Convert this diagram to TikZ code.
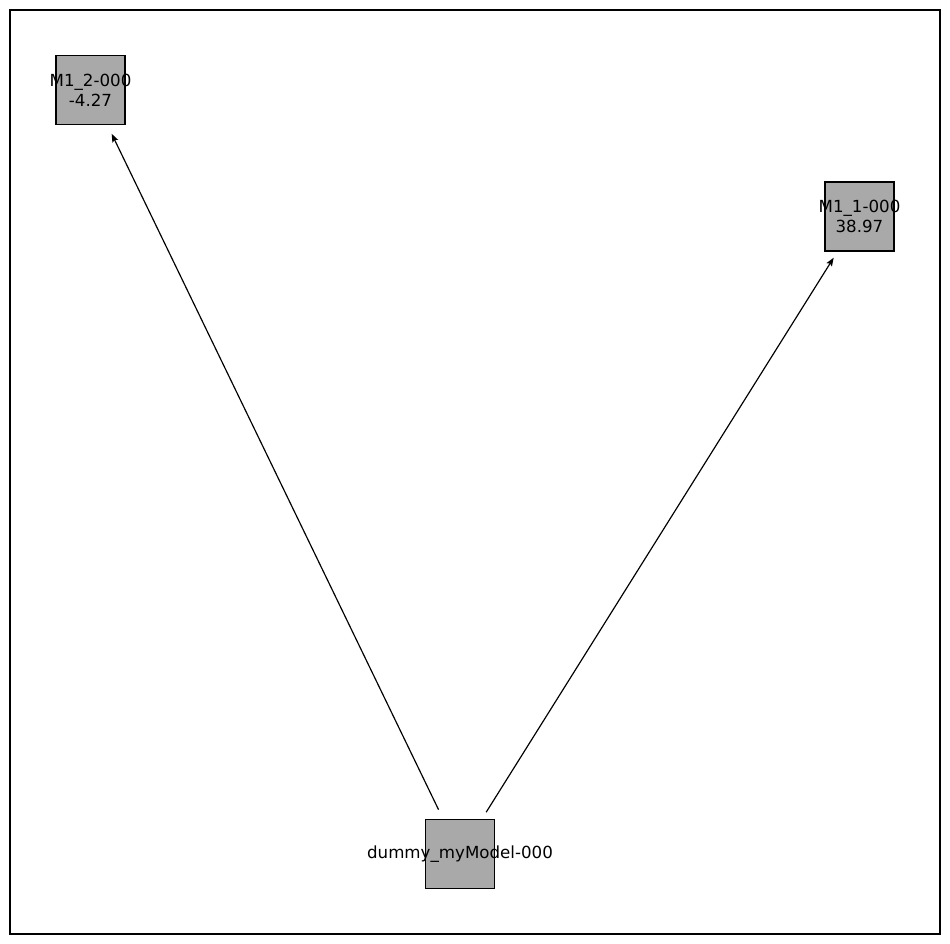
\documentclass[tikz,border=0pt]{standalone}
\usepackage{fontspec}
\setmainfont{DejaVu Sans}
\usetikzlibrary{arrows.meta}
\begin{document}
\begin{tikzpicture}[x=0.72pt,y=-0.72pt,
  nodebox/.style={draw=black,line width=0.8pt,fill={rgb,255:red,169;green,169;blue,169},minimum width=49.7pt,minimum height=49.7pt,inner sep=0pt},
  lbl/.style={font=\fontsize{12pt}{14.5pt}\selectfont,align=center,inner sep=0pt},
  edge/.style={-{Stealth[length=6pt,width=4.5pt,inset=1pt]},line width=0.85pt,shorten <=35.5pt,shorten >=35pt}]
\useasboundingbox (0,0) rectangle (950,944);
\draw[line width=0.75pt] (10,10) rectangle (940,934);
\node[nodebox] (m2) at (90.5,90) {};
\node[nodebox] (m1) at (859.5,216.5) {};
\node[nodebox] (d) at (460,854) {};
\node[lbl] (m2l) at (m2.center) {M1\_2-000\\-4.27};
\node[lbl] (m1l) at (m1.center) {M1\_1-000\\38.97};
\node[lbl] (dl) at (d.center) {dummy\_myModel-000};
\draw[edge] (d.center) -- (m2.center);
\draw[edge] (d.center) -- (m1.center);
\end{tikzpicture}
\end{document}
